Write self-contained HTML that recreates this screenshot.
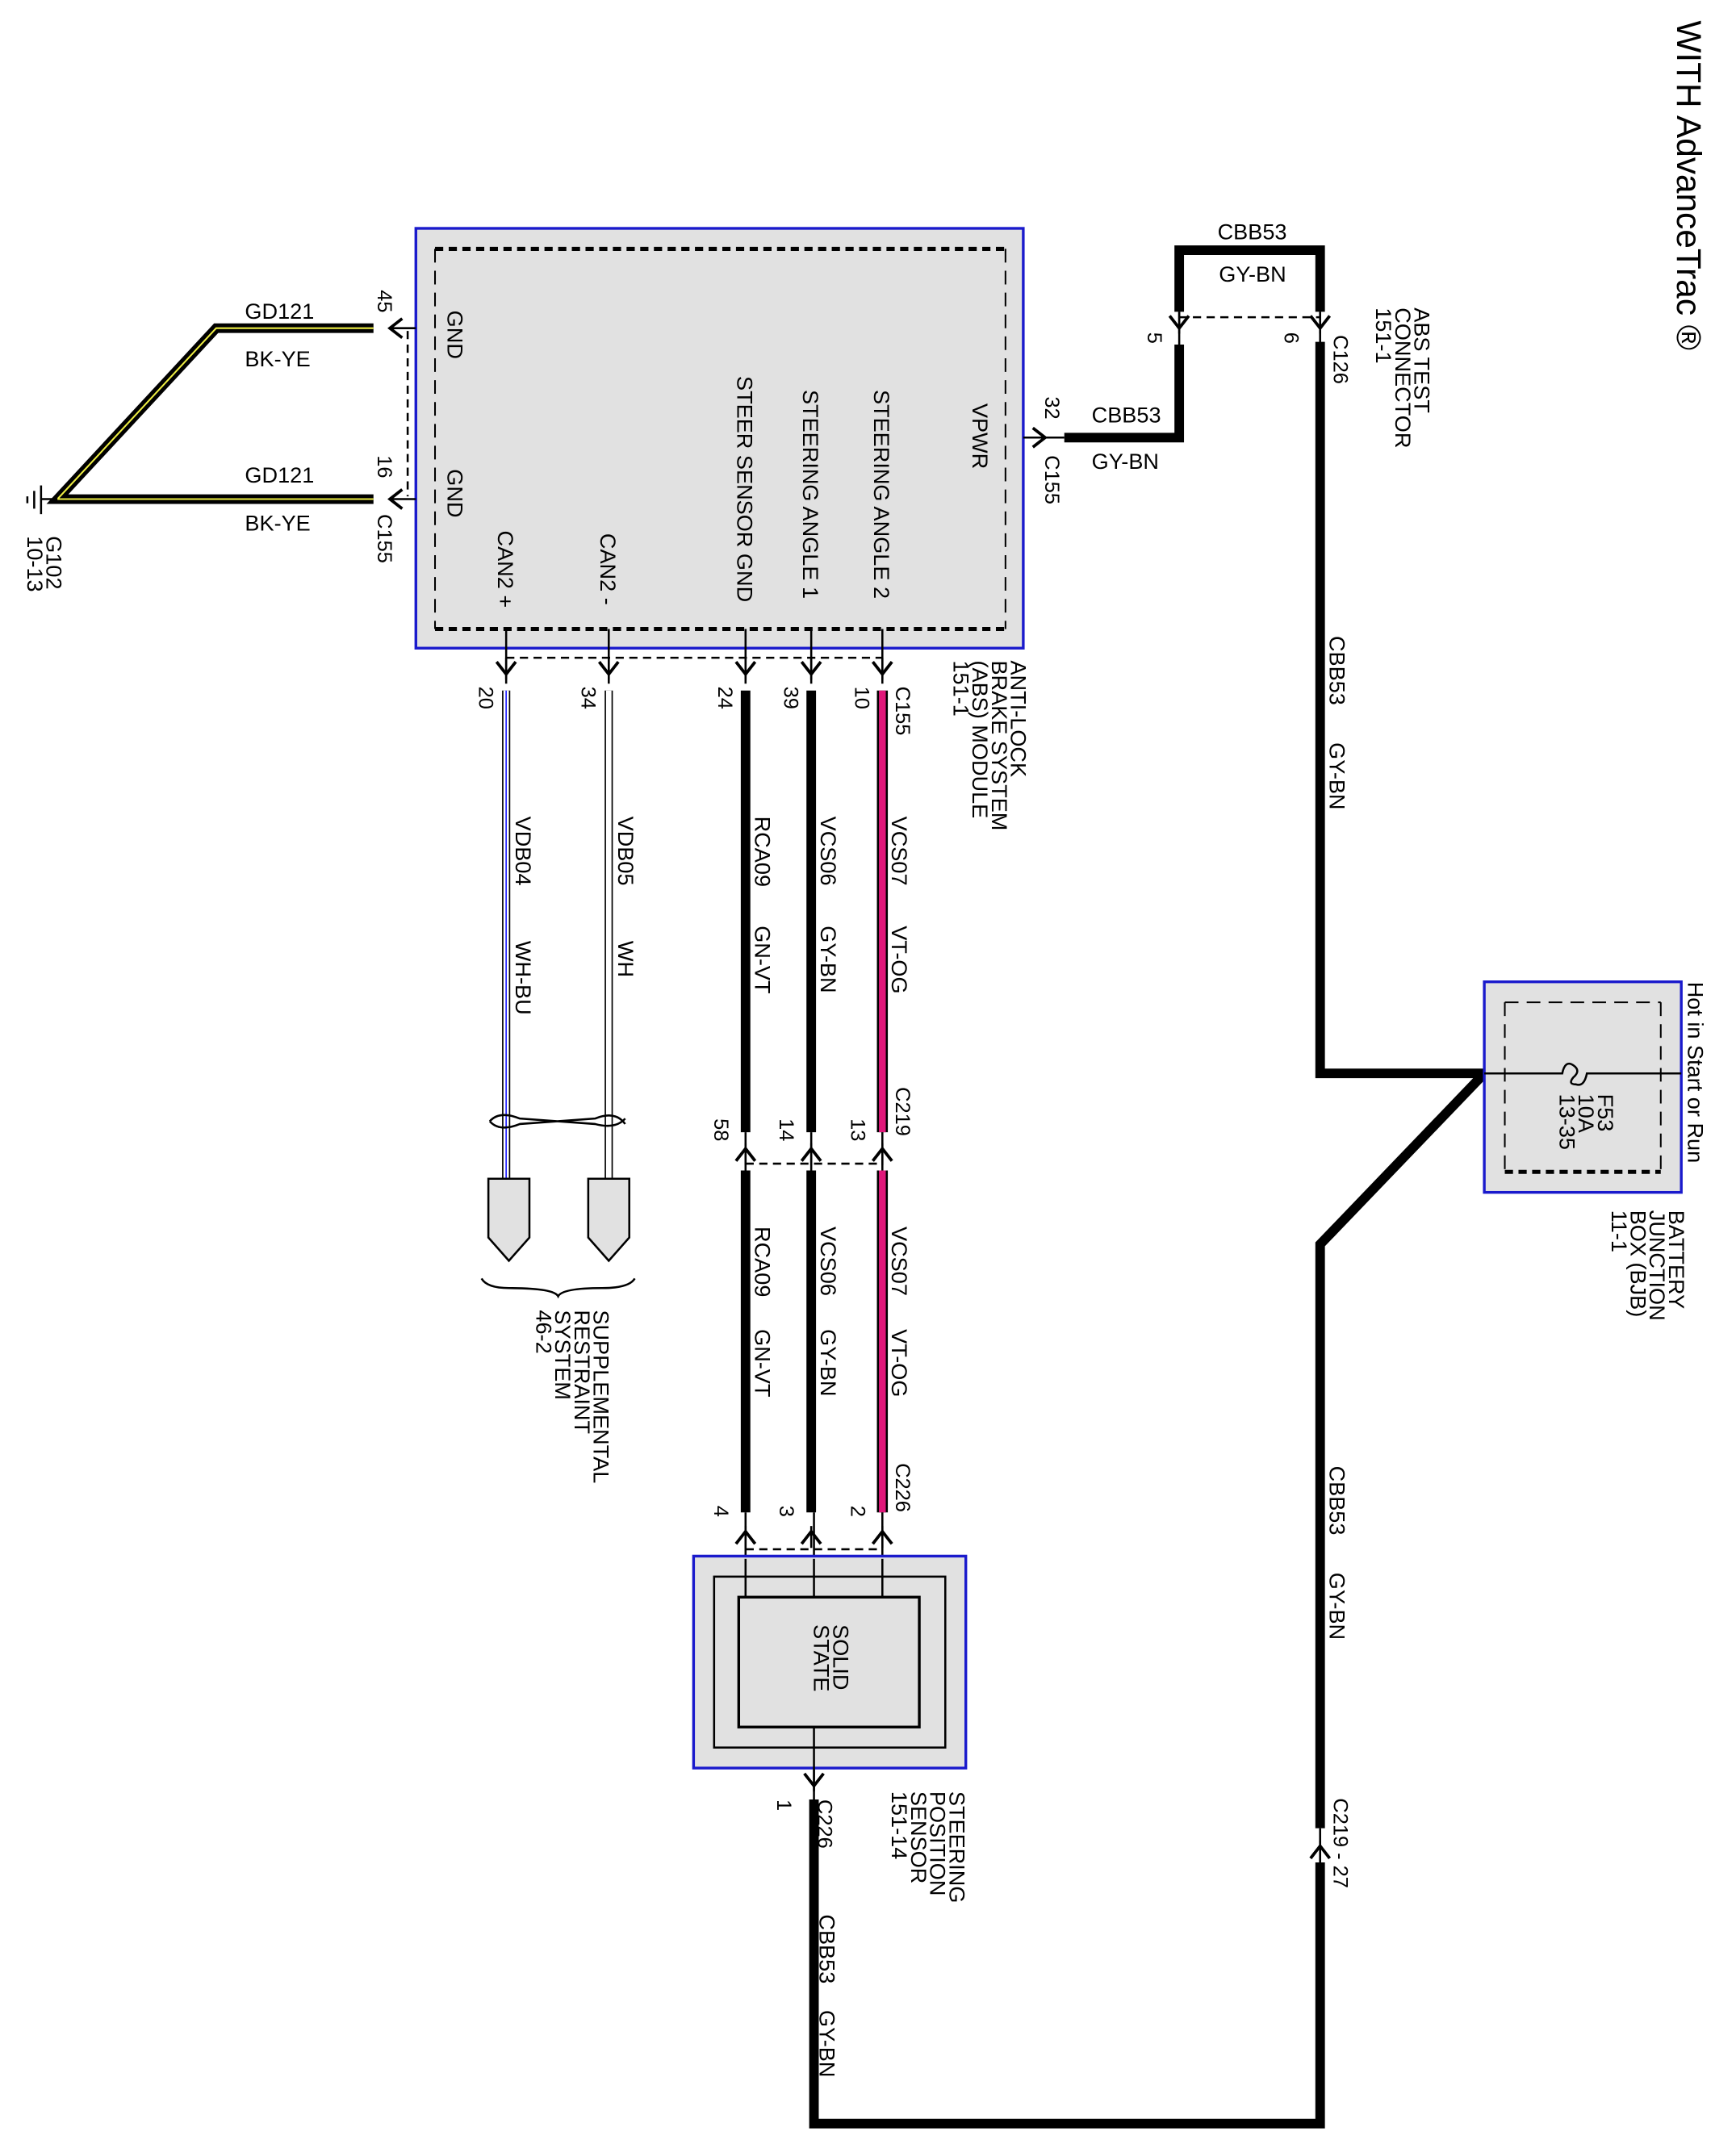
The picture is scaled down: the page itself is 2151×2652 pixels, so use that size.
<!DOCTYPE html>
<html><head><meta charset="utf-8"><style>
html,body{margin:0;padding:0;background:#fff}
svg{display:block}
text{font-family:"Liberation Sans",sans-serif;fill:#000}
.t{font-size:16px}
.s{font-size:15px}
</style></head><body>
<svg width="2151" height="2652" viewBox="0 0 1269 1565" preserveAspectRatio="none" xmlns="http://www.w3.org/2000/svg">
<defs>
<g id="dn"><path d="M-7,-9 L0,0 L7,-9" fill="none" stroke="#000" stroke-width="2.2"/><line x1="0" y1="-12" x2="0" y2="4" stroke="#000" stroke-width="1.5"/></g>
<g id="up"><path d="M-7,9 L0,0 L7,9" fill="none" stroke="#000" stroke-width="2.2"/><line x1="0" y1="12" x2="0" y2="-4" stroke="#000" stroke-width="1.5"/></g>
</defs>

<text class="t" style="font-size:25px" transform="translate(1226,15) rotate(90)">WITH AdvanceTrac ®</text>

<!-- ABS module -->
<rect x="304" y="167" width="444" height="307" fill="#e1e1e1" stroke="#1a1acc" stroke-width="2"/>
<line x1="318" y1="182" x2="735" y2="182" stroke="#000" stroke-width="3" stroke-dasharray="6,4"/>
<line x1="318" y1="460" x2="735" y2="460" stroke="#000" stroke-width="3" stroke-dasharray="6,4"/>
<line x1="318" y1="182" x2="318" y2="460" stroke="#000" stroke-width="1.2" stroke-dasharray="10,6"/>
<line x1="735" y1="182" x2="735" y2="460" stroke="#000" stroke-width="1.2" stroke-dasharray="10,6"/>
<text class="t" transform="translate(327,227) rotate(90)">GND</text>
<text class="t" transform="translate(327,343) rotate(90)">GND</text>
<text class="t" transform="translate(364,388) rotate(90)">CAN2 +</text>
<text class="t" transform="translate(439,390) rotate(90)">CAN2 -</text>
<text class="t" transform="translate(539,275) rotate(90)">STEER SENSOR GND</text>
<text class="t" transform="translate(587,285) rotate(90)">STEERING ANGLE 1</text>
<text class="t" transform="translate(639,285) rotate(90)">STEERING ANGLE 2</text>
<text class="t" transform="translate(711,295) rotate(90)">VPWR</text>
<text class="t" transform="translate(739,483) rotate(90)">ANTI-LOCK</text>
<text class="t" transform="translate(725,483) rotate(90)">BRAKE SYSTEM</text>
<text class="t" transform="translate(711,483) rotate(90)">(ABS) MODULE</text>
<text class="t" transform="translate(697,483) rotate(90)">151-1</text>

<!-- ground wires -->
<path d="M273,240 L158,240 L42,365 L273,365" fill="none" stroke="#000" stroke-width="7"/>
<path d="M273,240 L158,240 L42,365 L273,365" fill="none" stroke="#ee4" stroke-width="1.2"/>
<line x1="30" y1="355" x2="30" y2="376" stroke="#000" stroke-width="1.5"/>
<line x1="25" y1="359" x2="25" y2="372" stroke="#000" stroke-width="1.5"/>
<line x1="20" y1="363" x2="20" y2="368" stroke="#000" stroke-width="1.5"/>
<line x1="30" y1="365" x2="42" y2="365" stroke="#000" stroke-width="1.5"/>
<text class="t" x="179" y="233">GD121</text>
<text class="t" x="179" y="268">BK-YE</text>
<text class="t" x="179" y="353">GD121</text>
<text class="t" x="179" y="388">BK-YE</text>
<text class="t" transform="translate(34,392) rotate(90)">G102</text>
<text class="t" transform="translate(20,392) rotate(90)">10-13</text>
<line x1="285" y1="240" x2="304" y2="240" stroke="#000" stroke-width="1.5"/>
<line x1="285" y1="365" x2="304" y2="365" stroke="#000" stroke-width="1.5"/>
<path d="M294,233 L285,240 L294,247" fill="none" stroke="#000" stroke-width="2.2"/>
<path d="M294,358 L285,365 L294,372" fill="none" stroke="#000" stroke-width="2.2"/>
<line x1="298" y1="242" x2="298" y2="363" stroke="#000" stroke-width="1.5" stroke-dasharray="6,4"/>
<text class="s" transform="translate(276,212) rotate(90)">45</text>
<text class="s" transform="translate(276,333) rotate(90)">16</text>
<text class="s" transform="translate(276,376) rotate(90)">C155</text>

<!-- bottom C155 connectors -->
<g stroke="#000" stroke-width="1.5">
<line x1="370" y1="460" x2="370" y2="500"/><line x1="445" y1="460" x2="445" y2="500"/>
<line x1="545" y1="460" x2="545" y2="500"/><line x1="593" y1="460" x2="593" y2="500"/><line x1="645" y1="460" x2="645" y2="500"/>
</g>
<line x1="370" y1="481" x2="645" y2="481" stroke="#000" stroke-width="1.5" stroke-dasharray="6,4"/>
<use href="#dn" x="370" y="493"/><use href="#dn" x="445" y="493"/><use href="#dn" x="545" y="493"/><use href="#dn" x="593" y="493"/><use href="#dn" x="645" y="493"/>
<text class="s" transform="translate(350,502) rotate(90)">20</text>
<text class="s" transform="translate(425,502) rotate(90)">34</text>
<text class="s" transform="translate(525,502) rotate(90)">24</text>
<text class="s" transform="translate(573,502) rotate(90)">39</text>
<text class="s" transform="translate(625,502) rotate(90)">10</text>
<text class="s" transform="translate(655,502) rotate(90)">C155</text>

<!-- CAN wires -->
<g fill="none">
<line x1="370" y1="505" x2="370" y2="862" stroke="#000" stroke-width="6"/>
<line x1="370" y1="505" x2="370" y2="862" stroke="#fff" stroke-width="4"/>
<line x1="370" y1="505" x2="370" y2="862" stroke="#22f" stroke-width="1"/>
<line x1="445" y1="505" x2="445" y2="862" stroke="#000" stroke-width="6"/>
<line x1="445" y1="505" x2="445" y2="862" stroke="#fff" stroke-width="4"/>
</g>
<path d="M358,820 Q365,812 380,818 L435,822 Q450,826 457,818 M358,820 Q365,828 380,822 L435,818 Q450,812 457,822" fill="none" stroke="#000" stroke-width="1.5"/>
<path d="M357,862 L387,862 L387,905 L372,922 L357,905 Z" fill="#e1e1e1" stroke="#000" stroke-width="1.5"/>
<path d="M430,862 L460,862 L460,905 L445,922 L430,905 Z" fill="#e1e1e1" stroke="#000" stroke-width="1.5"/>
<path d="M352,935 Q356,942 372,942 Q405,942 408,948 Q411,942 440,942 Q460,942 464,935" fill="none" stroke="#000" stroke-width="1.5"/>
<text class="t" transform="translate(377,597) rotate(90)">VDB04</text>
<text class="t" transform="translate(377,688) rotate(90)">WH-BU</text>
<text class="t" transform="translate(452,597) rotate(90)">VDB05</text>
<text class="t" transform="translate(452,688) rotate(90)">WH</text>
<text class="t" transform="translate(434,958) rotate(90)">SUPPLEMENTAL</text>
<text class="t" transform="translate(420,958) rotate(90)">RESTRAINT</text>
<text class="t" transform="translate(406,958) rotate(90)">SYSTEM</text>
<text class="t" transform="translate(392,958) rotate(90)">46-2</text>

<!-- signal wires -->
<g>
<line x1="545" y1="505" x2="545" y2="828" stroke="#000" stroke-width="7"/>
<line x1="593" y1="505" x2="593" y2="828" stroke="#000" stroke-width="7"/>
<line x1="645" y1="505" x2="645" y2="828" stroke="#000" stroke-width="8"/>
<line x1="645" y1="505" x2="645" y2="828" stroke="#e0187a" stroke-width="5"/>
<line x1="545" y1="856" x2="545" y2="1106" stroke="#000" stroke-width="7"/>
<line x1="593" y1="856" x2="593" y2="1106" stroke="#000" stroke-width="7"/>
<line x1="645" y1="856" x2="645" y2="1106" stroke="#000" stroke-width="8"/>
<line x1="645" y1="856" x2="645" y2="1106" stroke="#e0187a" stroke-width="5"/>
</g>
<text class="t" transform="translate(552,597) rotate(90)">RCA09</text>
<text class="t" transform="translate(552,677) rotate(90)">GN-VT</text>
<text class="t" transform="translate(600,597) rotate(90)">VCS06</text>
<text class="t" transform="translate(600,677) rotate(90)">GY-BN</text>
<text class="t" transform="translate(652,597) rotate(90)">VCS07</text>
<text class="t" transform="translate(652,677) rotate(90)">VT-OG</text>
<text class="t" transform="translate(552,897) rotate(90)">RCA09</text>
<text class="t" transform="translate(552,972) rotate(90)">GN-VT</text>
<text class="t" transform="translate(600,897) rotate(90)">VCS06</text>
<text class="t" transform="translate(600,972) rotate(90)">GY-BN</text>
<text class="t" transform="translate(652,897) rotate(90)">VCS07</text>
<text class="t" transform="translate(652,972) rotate(90)">VT-OG</text>

<!-- C219 -->
<g stroke="#000" stroke-width="1.5"><line x1="545" y1="828" x2="545" y2="856"/><line x1="593" y1="828" x2="593" y2="856"/><line x1="645" y1="828" x2="645" y2="856"/></g>
<use href="#up" x="545" y="840"/><use href="#up" x="593" y="840"/><use href="#up" x="645" y="840"/>
<line x1="545" y1="851" x2="645" y2="851" stroke="#000" stroke-width="1.5" stroke-dasharray="6,4"/>
<text class="s" transform="translate(522,818) rotate(90)">58</text>
<text class="s" transform="translate(570,818) rotate(90)">14</text>
<text class="s" transform="translate(622,818) rotate(90)">13</text>
<text class="s" transform="translate(655,795) rotate(90)">C219</text>

<!-- C226 -->
<g stroke="#000" stroke-width="1.5"><line x1="545" y1="1106" x2="545" y2="1168"/><line x1="595" y1="1106" x2="595" y2="1168"/><line x1="645" y1="1106" x2="645" y2="1168"/></g>
<use href="#up" x="545" y="1120"/><use href="#up" x="593" y="1120"/><use href="#up" x="645" y="1120"/>
<line x1="545" y1="1133" x2="645" y2="1133" stroke="#000" stroke-width="1.5" stroke-dasharray="6,4"/>
<text class="s" transform="translate(522,1101) rotate(90)">4</text>
<text class="s" transform="translate(570,1101) rotate(90)">3</text>
<text class="s" transform="translate(622,1101) rotate(90)">2</text>
<text class="s" transform="translate(655,1070) rotate(90)">C226</text>

<!-- sensor box -->
<rect x="507" y="1138" width="199" height="155" fill="#e1e1e1" stroke="#1a1acc" stroke-width="2"/>
<rect x="522" y="1153" width="169" height="125" fill="none" stroke="#000" stroke-width="1.5"/>
<rect x="540" y="1168" width="132" height="95" fill="#e1e1e1" stroke="#000" stroke-width="2"/>
<line x1="545" y1="1140" x2="545" y2="1168" stroke="#000" stroke-width="1.5"/>
<line x1="595" y1="1140" x2="595" y2="1168" stroke="#000" stroke-width="1.5"/>
<line x1="645" y1="1140" x2="645" y2="1168" stroke="#000" stroke-width="1.5"/>
<text class="t" transform="translate(609,1188) rotate(90)">SOLID</text>
<text class="t" transform="translate(595,1188) rotate(90)">STATE</text>
<text class="t" transform="translate(694,1310) rotate(90)">STEERING</text>
<text class="t" transform="translate(680,1310) rotate(90)">POSITION</text>
<text class="t" transform="translate(666,1310) rotate(90)">SENSOR</text>
<text class="t" transform="translate(652,1310) rotate(90)">151-14</text>
<line x1="595" y1="1263" x2="595" y2="1316" stroke="#000" stroke-width="1.5"/>
<use href="#dn" x="595" y="1306"/>
<text class="s" transform="translate(568,1316) rotate(90)">1</text>
<text class="s" transform="translate(598,1316) rotate(90)">C226</text>

<!-- power wire -->
<path d="M595,1316 L595,1553 L965,1553 L965,1362" fill="none" stroke="#000" stroke-width="7"/>
<line x1="965" y1="1337" x2="965" y2="1362" stroke="#000" stroke-width="1.5"/>
<use href="#up" x="965" y="1350"/>
<text class="s" transform="translate(975,1315) rotate(90)">C219 - 27</text>
<path d="M965,1337 L965,910 L1085,785 L965,785 L965,250" fill="none" stroke="#000" stroke-width="7"/>
<text class="t" transform="translate(599,1400) rotate(90)">CBB53</text>
<text class="t" transform="translate(599,1470) rotate(90)">GY-BN</text>
<text class="t" transform="translate(972,465) rotate(90)">CBB53</text>
<text class="t" transform="translate(972,543) rotate(90)">GY-BN</text>
<text class="t" transform="translate(972,1072) rotate(90)">CBB53</text>
<text class="t" transform="translate(972,1150) rotate(90)">GY-BN</text>

<!-- BJB -->
<rect x="1085" y="718" width="144" height="154" fill="#e1e1e1" stroke="#1a1acc" stroke-width="2"/>
<line x1="1100" y1="733" x2="1214" y2="733" stroke="#000" stroke-width="1.2" stroke-dasharray="10,6"/>
<line x1="1100" y1="857" x2="1214" y2="857" stroke="#000" stroke-width="3" stroke-dasharray="6,4"/>
<line x1="1100" y1="733" x2="1100" y2="857" stroke="#000" stroke-width="1.2" stroke-dasharray="10,6"/>
<line x1="1214" y1="733" x2="1214" y2="857" stroke="#000" stroke-width="1.2" stroke-dasharray="10,6"/>
<path d="M1085,785 L1142,785 Q1144,775 1150,779 Q1156,783 1150,788 Q1146,793 1152,793 Q1158,795 1160,785 L1229,785" fill="none" stroke="#000" stroke-width="1.5"/>
<text class="t" transform="translate(1168,800) rotate(90)">F53</text>
<text class="t" transform="translate(1154,800) rotate(90)">10A</text>
<text class="t" transform="translate(1140,800) rotate(90)">13-35</text>
<text class="t" transform="translate(1234,718) rotate(90)">Hot in Start or Run</text>
<text class="t" transform="translate(1220,885) rotate(90)">BATTERY</text>
<text class="t" transform="translate(1206,885) rotate(90)">JUNCTION</text>
<text class="t" transform="translate(1192,885) rotate(90)">BOX (BJB)</text>
<text class="t" transform="translate(1178,885) rotate(90)">11-1</text>

<!-- ABS test connector -->
<path d="M965,228 L965,183 L862,183 L862,228" fill="none" stroke="#000" stroke-width="7"/>
<line x1="862" y1="228" x2="862" y2="252" stroke="#000" stroke-width="1.5"/>
<line x1="965" y1="228" x2="965" y2="252" stroke="#000" stroke-width="1.5"/>
<use href="#dn" x="862" y="240"/><use href="#dn" x="965" y="240"/>
<line x1="862" y1="232" x2="965" y2="232" stroke="#000" stroke-width="1.5" stroke-dasharray="6,4"/>
<path d="M862,252 L862,320 L778,320" fill="none" stroke="#000" stroke-width="7"/>
<line x1="748" y1="320" x2="778" y2="320" stroke="#000" stroke-width="1.5"/>
<path d="M755,313 L764,320 L755,327" fill="none" stroke="#000" stroke-width="2.2"/>
<text class="t" x="890" y="175">CBB53</text>
<text class="t" x="891" y="206">GY-BN</text>
<text class="t" x="798" y="309">CBB53</text>
<text class="t" x="798" y="343">GY-BN</text>
<text class="s" transform="translate(764,290) rotate(90)">32</text>
<text class="s" transform="translate(764,333) rotate(90)">C155</text>
<text class="s" transform="translate(839,243) rotate(90)">5</text>
<text class="s" transform="translate(939,243) rotate(90)">6</text>
<text class="s" transform="translate(975,245) rotate(90)">C126</text>
<text class="t" transform="translate(1034,225) rotate(90)">ABS TEST</text>
<text class="t" transform="translate(1020,225) rotate(90)">CONNECTOR</text>
<text class="t" transform="translate(1006,225) rotate(90)">151-1</text>
</svg>
</body></html>
